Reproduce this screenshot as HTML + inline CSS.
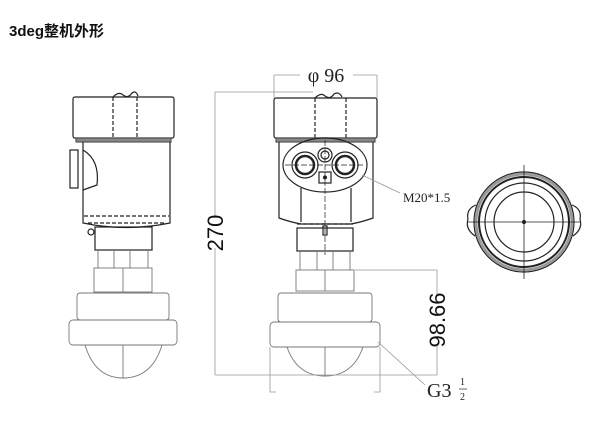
<!DOCTYPE html>
<html><head><meta charset="utf-8"><style>
body{margin:0;background:#fff;width:600px;height:434px;overflow:hidden}
svg{position:absolute;left:0;top:0}
.t{position:absolute;left:9px;top:20px;font:bold 15px "Liberation Sans","Noto Sans CJK SC",sans-serif;color:#111}
</style></head><body>
<div class="t">3deg整机外形</div>
<svg width="600" height="434" viewBox="0 0 600 434" font-family="Liberation Serif, serif">
<g fill="none" stroke="#222" stroke-width="1.2">
<!-- LEFT DEVICE -->
<rect x="73" y="97" width="101" height="41" rx="2"/>
<path d="M113 97 L113 138 M137 97 L137 138" stroke-dasharray="4 2"/>
<path d="M113 97 q6 -6 10 -2 q5 4 9 -2 q4 -3 6 3" />
<rect x="76" y="138" width="95" height="4" fill="#888" stroke="#555"/>
<path d="M83 142 L83 223 Q126 232 170 223 L170 142"/>
<path d="M83 150 Q100 160 97 185 L83 190"/>
<rect x="70" y="150" width="8" height="38"/>
<path d="M84 216 L169 216 M88 223 L165 223" stroke-dasharray="4 2"/>
<circle cx="91" cy="232" r="3"/>
<rect x="95" y="227" width="57" height="23"/>
<g stroke="#777" stroke-width="0.9">
<path d="M98 250 L98 268 M114 250 L114 268 M130 250 L130 268 M148 250 L148 268"/>
<rect x="94" y="268" width="58" height="24"/><path d="M123 268 L123 292"/>
<rect x="77" y="293" width="92" height="27" rx="3"/>
<rect x="69" y="320" width="108" height="25" rx="4"/>
<path d="M85 345 Q95 378 123 378 Q152 378 162 345 M123 345 L123 378"/>
</g>
<!-- MIDDLE DEVICE -->
<rect x="274" y="98" width="103" height="40" rx="2"/>
<path d="M315 98 L315 138 M346 98 L346 138" stroke-dasharray="4 2"/>
<path d="M315 98 q6 -6 10 -2 q5 4 9 -2 q5 -3 8 3"/>
<rect x="276" y="138" width="99" height="4" fill="#888" stroke="#555"/>
<path d="M279 142 L279 218 Q290 222 301 224 L351 224 Q362 222 373 218 L373 142"/>
<path d="M301 188 L301 222 M351 188 L351 222"/>
<ellipse cx="325" cy="165" rx="42" ry="27"/>
<circle cx="305" cy="165" r="13"/><circle cx="305" cy="165" r="9" stroke-width="2.5"/>
<circle cx="345" cy="165" r="13"/><circle cx="345" cy="165" r="9" stroke-width="2.5"/>
<circle cx="325" cy="155" r="7"/><circle cx="325" cy="155" r="4"/>
<rect x="319" y="172" width="12" height="11"/><circle cx="325" cy="177.5" r="1.5" fill="#222"/>
<path d="M285 165 L365 165 M325 140 L325 255" stroke-width="0.7" stroke-dasharray="6 2"/>
<path d="M297 224 L353 224" stroke-dasharray="4 2"/>
<rect x="323" y="226" width="4" height="9"/>
<rect x="297" y="228" width="56" height="23"/>
<g stroke="#777" stroke-width="0.9">
<path d="M300 251 L300 270 M317 251 L317 270 M333 251 L333 270 M350 251 L350 270"/>
<rect x="296" y="270" width="58" height="21"/><path d="M325 270 L325 291"/>
<rect x="278" y="293" width="94" height="29" rx="3"/>
<rect x="270" y="322" width="110" height="25" rx="4"/>
<path d="M287 347 Q297 376 325 376 Q353 376 363 347 M325 347 L325 376"/>
</g>
<!-- DIMENSIONS -->
<g stroke="#999" stroke-width="0.8">
<path d="M215 92 L313 92 M215 92 L215 218 M215 248 L215 375 M215 375 L437 375"/>
<path d="M274 75 L300 75 M353 75 L377 75 M274 75 L274 98 M377 75 L377 98"/>
<path d="M355 270 L437 270 L437 295 M437 345 L437 375"/>
<path d="M270 347 L270 392 L276 392 M380 347 L380 392 L374 392"/>
<path d="M378 342 L425 385 M362 175 L400 193"/>
</g>
<!-- TOP VIEW -->
<circle cx="524" cy="222" r="50"/>
<circle cx="524" cy="222" r="48" stroke="#999" stroke-width="3"/>
<circle cx="524" cy="222" r="45" stroke-width="2"/>
<circle cx="524" cy="222" r="39"/>
<circle cx="524" cy="222" r="30"/>
<path d="M476 205 q-10 4 -8 14 q-3 10 7 17 M572 205 q10 4 8 14 q3 10 -7 17"/>
<path d="M468 222 L580 222 M524 165 L524 279" stroke-width="0.8"/>
<circle cx="524" cy="222" r="1.5" fill="#222"/>
</g>
<text x="326" y="82" font-size="20" text-anchor="middle" fill="#222">φ 96</text>
<text x="403" y="202" font-size="13" fill="#222">M20*1.5</text>
<text transform="translate(223,233) rotate(-90)" font-family="Liberation Sans, sans-serif" font-size="22" text-anchor="middle" fill="#111">270</text>
<text transform="translate(445,320) rotate(-90)" font-family="Liberation Sans, sans-serif" font-size="22" text-anchor="middle" fill="#111">98.66</text>
<text x="427" y="397" font-size="20" fill="#222">G3</text>
<text x="460" y="385" font-size="10" fill="#222">1</text>
<line x1="459" y1="389" x2="467" y2="389" stroke="#222" stroke-width="0.7"/>
<text x="460" y="400" font-size="10" fill="#222">2</text>
</svg>
</body></html>
